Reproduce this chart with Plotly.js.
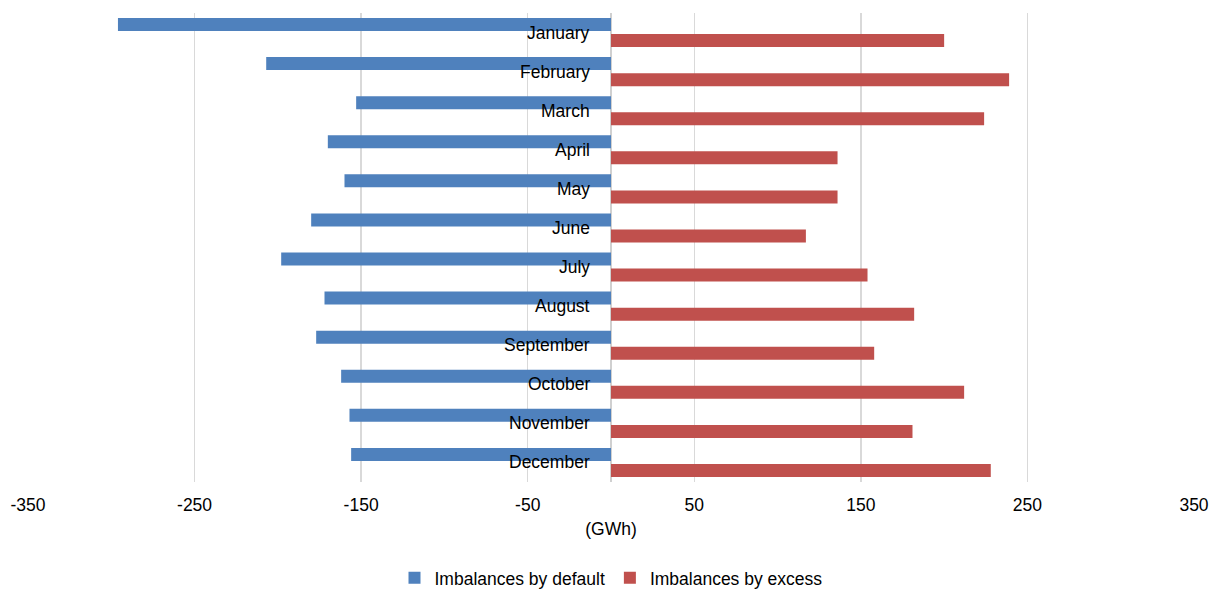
<!DOCTYPE html>
<html>
<head>
<meta charset="utf-8">
<script src="https://cdn.plot.ly/plotly-3.0.1.min.js"></script>
<style>html,body{margin:0;padding:0;background:#fff;}#chart{width:1210px;height:592px;}</style>
</head>
<body>
<div id="chart"></div>
<script>
const months = ["January","February","March","April","May","June","July","August","September","October","November","December"];
const imbalancesByDefault = [-296, -207, -153, -170, -160, -180, -198, -172, -177, -162, -157, -156];
const imbalancesByExcess = [200, 239, 224, 136, 136, 117, 154, 182, 158, 212, 181, 228];
const tickValues = [-350, -250, -150, -50, 50, 150, 250, 350];
const tickLabels = ["-350", "-250", "-150", "-50", "50", "150", "250", "350"];
const seriesNames = ["Imbalances by default", "Imbalances by excess"];

const font = "Liberation Sans, Arial, sans-serif";

const traces = [
  {type: "bar", orientation: "h", name: seriesNames[0], y: months, x: imbalancesByDefault,
   marker: {color: "#4F81BD", line: {width: 0}}, hoverinfo: "x+y"},
  {type: "bar", orientation: "h", name: seriesNames[1], y: months, x: imbalancesByExcess,
   marker: {color: "#C0504D", line: {width: 0}}, hoverinfo: "x+y"}
];

const annotations = months.map(m => ({
  x: 0, y: m, xref: "x", yref: "y", text: m, showarrow: false,
  xanchor: "right", yanchor: "middle", xshift: -19,
  font: {family: font, size: 17.5, color: "#000"}
}));

const layout = {
  width: 1210, height: 592,
  margin: {l: 28, r: 16, t: 13, b: 110, autoexpand: false},
  paper_bgcolor: "#fff", plot_bgcolor: "#fff",
  barmode: "group", bargap: 0.18, bargroupgap: 0.19,
  font: {family: font, size: 17, color: "#000"},
  xaxis: {
    range: [-350, 350], tickvals: tickValues, ticktext: tickLabels,
    showgrid: true, gridcolor: "#d9d9d9", gridwidth: 1.5,
    zeroline: true, zerolinecolor: "#d0d0d0", zerolinewidth: 1.5,
    showline: false, ticks: "", ticklabelstandoff: 10, automargin: false,
    tickfont: {family: font, size: 17.5, color: "#000"},
    title: {text: "(GWh)", font: {family: font, size: 17.5, color: "#000"}, standoff: 9}
  },
  yaxis: {
    type: "category", range: [11.5, -0.5], showticklabels: false, automargin: false,
    showgrid: false, zeroline: false, showline: false, ticks: ""
  },
  legend: {
    orientation: "h", x: 0.5, xanchor: "center", y: -0.243, yanchor: "bottom",
    itemwidth: 30,
    font: {family: font, size: 17.5, color: "#000"}, traceorder: "normal"
  },
  annotations: annotations,
  showlegend: true
};

Plotly.newPlot("chart", traces, layout, {displayModeBar: false, staticPlot: true});
</script>
</body>
</html>
